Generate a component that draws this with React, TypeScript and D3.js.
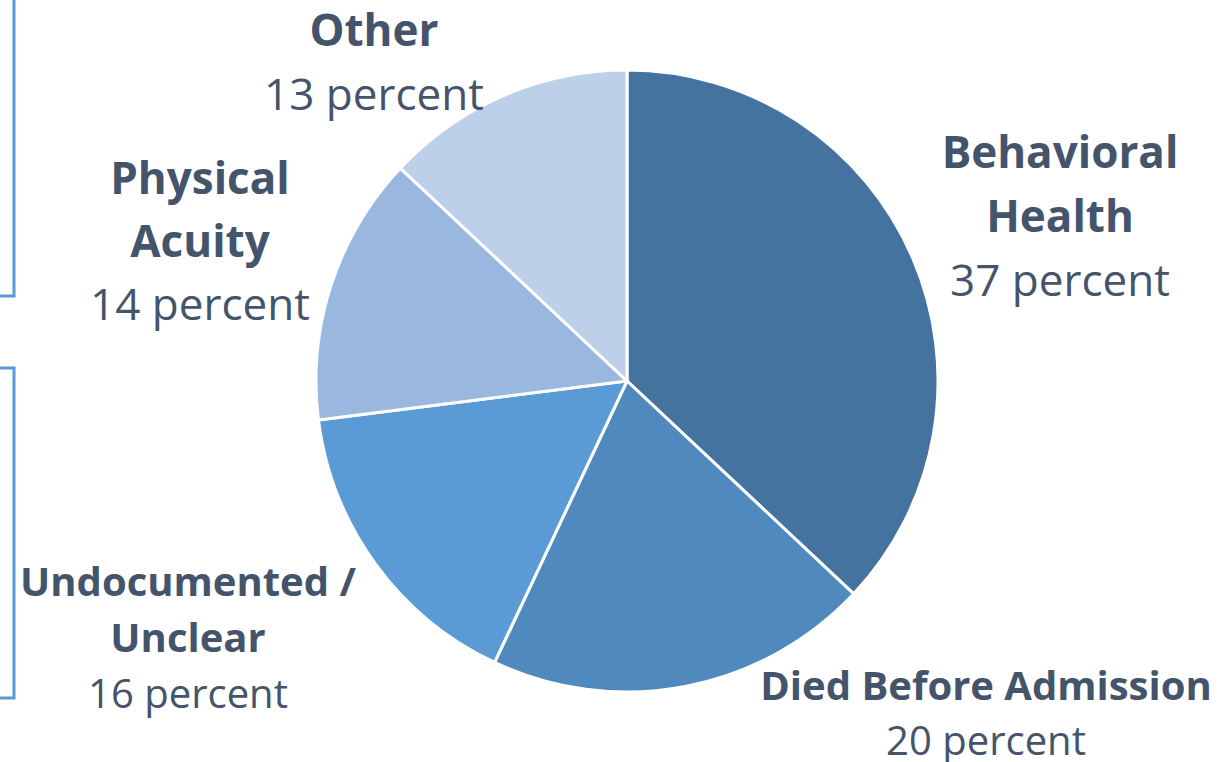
import React from "react";
import * as d3 from "d3";

const categories = ["Behavioral Health", "Died Before Admission", "Undocumented / Unclear", "Physical Acuity", "Other"];
const values = [37, 20, 16, 14, 13];
const labelLines = [["Behavioral", "Health"], ["Died Before Admission"], ["Undocumented /", "Unclear"], ["Physical", "Acuity"], ["Other"]];
const valueLabels = ["37 percent", "20 percent", "16 percent", "14 percent", "13 percent"];
const colors = ["#44739F", "#4F89BD", "#5A9BD6", "#9AB8DF", "#BDD0EA"];

// layout (positions only)
const labelLayout = [
  { x: 1060, y: 168, size: 44, lh: 64 },
  { x: 986, y: 700, size: 40, lh: 55 },
  { x: 188, y: 596, size: 40, lh: 56 },
  { x: 200, y: 194, size: 44, lh: 63 },
  { x: 374, y: 46, size: 44, lh: 64 },
];

const W = 1222, H = 762;
const cx = 627, cy = 381, R = 311;
const textColor = "#44546A";
const font = "'Open Sans', 'Noto Sans', sans-serif";

export default function App() {
  const data = categories.map((c, i) => ({ c, v: values[i], i }));
  const pie = d3.pie<any>().value((d) => d.v).sort(null).startAngle(0).endAngle(2 * Math.PI);
  const arcs = pie(data);
  const arc = d3.arc<any>().innerRadius(0).outerRadius(R);

  return (
    <svg width={W} height={H} style={{ position: "absolute", left: 0, top: 0, background: "#fff" }}>
      <g fill="none" stroke="#5B9BD5" strokeWidth={3}>
        <path d="M14,0 V296 H0" />
        <path d="M0,368 H14 V698 H0" />
      </g>
      <g transform={`translate(${cx},${cy})`}>
        {arcs.map((a, i) => (
          <path key={i} d={arc(a) as string} fill={colors[i]} stroke="#fff" strokeWidth={3} strokeLinejoin="miter" />
        ))}
      </g>
      {labelLayout.map((L, i) => (
        <text key={i} textAnchor="middle" fill={textColor} fontFamily={font} fontSize={L.size}>
          {labelLines[i].map((t, j) => (
            <tspan key={j} x={L.x} y={L.y + j * L.lh} fontWeight="bold">{t}</tspan>
          ))}
          <tspan x={L.x} y={L.y + labelLines[i].length * L.lh}>{valueLabels[i]}</tspan>
        </text>
      ))}
    </svg>
  );
}
